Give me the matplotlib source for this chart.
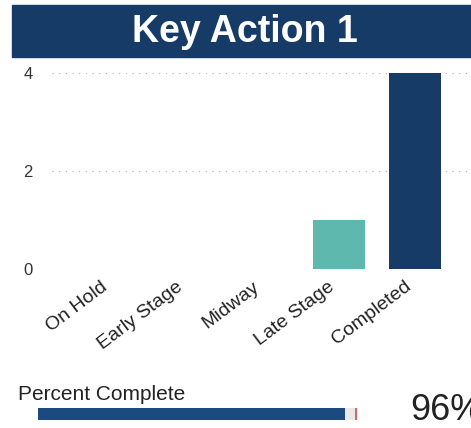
import matplotlib.pyplot as plt
from matplotlib.patches import Rectangle
from matplotlib.transforms import ScaledTranslation

plt.rcParams['font.family'] = ['Liberation Sans', 'DejaVu Sans']

# data
stages = ['On Hold', 'Early Stage', 'Midway', 'Late Stage', 'Completed']
counts = [0, 0, 0, 1, 4]
bar_colors = ['#5fb8ad', '#5fb8ad', '#5fb8ad', '#5fb8ad', '#163b66']
percent_complete = 0.96

W, H = 471, 428
fig = plt.figure(figsize=(W / 100, H / 100), dpi=100)

# title banner
fig.patches.append(Rectangle((12 / W, 1 - 57 / H), 1, 52 / H, transform=fig.transFigure,
                             color='#163b66', zorder=0))
fig.text(245 / W, 1 - 32 / H, 'Key Action 1', color='white', fontsize=27, fontweight='bold',
         ha='center', va='center')

# bar chart
ax = fig.add_axes([52 / W, 1 - 269 / H, 1 - 52 / W, 196 / H])
x = list(range(len(stages)))
ax.bar(x, counts, width=0.68, color=bar_colors, zorder=3)
ax.set_xlim(-0.78, 4.74)
ax.set_ylim(0, 4)
ax.set_yticks([0, 2, 4])
ax.set_yticklabels(['0', '2', '4'], fontsize=12, color='#333333')
ax.set_xticks(x)
ax.set_xticklabels([])
# category labels, nudged left of the bar centre like the reference
lab_tr = ax.get_xaxis_transform() + ScaledTranslation(-11 / 100, -9 / 100, fig.dpi_scale_trans)
for xi, name in zip(x, stages):
    ax.text(xi, 0, name, transform=lab_tr, rotation=37, ha='right', va='top',
            rotation_mode='anchor', fontsize=14, color='#222222')
ax.tick_params(axis='y', length=0, pad=14)
ax.tick_params(axis='x', length=0)
ax.grid(axis='y', linestyle=(0, (1, 5)), color='#b0b0b0', linewidth=0.8, zorder=0)
ax.xaxis.grid(False)
for s in ax.spines.values():
    s.set_visible(False)

# percent complete
fig.text(18 / W, 1 - 394 / H, 'Percent Complete', fontsize=15, color='#222222', va='center')
pax = fig.add_axes([38 / W, 1 - 420 / H, 320 / W, 12 / H])
pax.barh([0], [1], height=1, color='#e8e8e8')
pax.barh([0], [percent_complete], height=1, color='#1a4a80')
pax.axvline(0.995, color='#d05050', linewidth=1.2)
pax.set_xlim(0, 1)
pax.set_ylim(-0.5, 0.5)
pax.axis('off')
fig.text(410 / W, 1 - 410 / H, f'{percent_complete:.0%}', fontsize=26, color='#222222',
         va='center', ha='left')

fig.savefig('out.png', dpi=100)
